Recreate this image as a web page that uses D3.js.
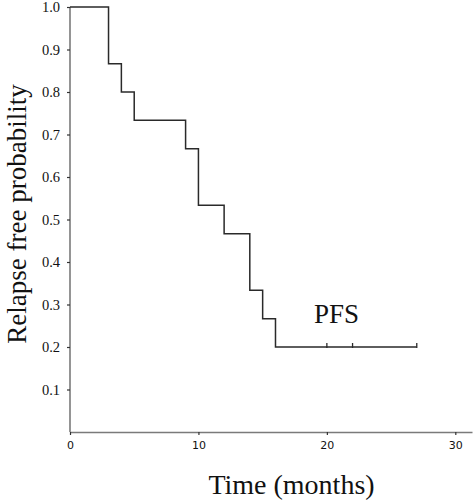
<!DOCTYPE html>
<html>
<head>
<meta charset="utf-8">
<script src="https://cdn.jsdelivr.net/npm/d3@7"></script>
<style>
  html, body { margin: 0; padding: 0; background: #fff; }
  svg { display: block; }
  .serif { font-family: 'Liberation Serif', 'Times New Roman', Times, 'DejaVu Serif', serif; }
  .sans { font-family: 'DejaVu Sans', Verdana, sans-serif; }
</style>
</head>
<body>
<svg id="chart" width="475" height="502"></svg>
<script>
// Data: Kaplan-Meier step points (time in months, survival probability)
const stepTimes = [0, 3, 4, 5, 9, 10, 12, 14, 15, 16, 27];
const stepValues = [1.0, 0.8667, 0.8, 0.7333, 0.6667, 0.5333, 0.4667, 0.3333, 0.2667, 0.2, 0.2];
const censorTimes = [20, 22, 27];
const censorValues = [0.2, 0.2, 0.2];
const xTicks = [0, 10, 20, 30];
const yTicks = [0.1, 0.2, 0.3, 0.4, 0.5, 0.6, 0.7, 0.8, 0.9, 1.0];
const curveLabel = "PFS";
const xTitle = "Time (months)";
const yTitle = "Relapse free probability";

const svg = d3.select("#chart");
const x = d3.scaleLinear().domain([0, 31.3]).range([70, 472]);
const y = d3.scaleLinear().domain([0, 1]).range([432, 7]);

// axes
const gx = svg.append("g").attr("transform", `translate(0,${y(0)})`)
  .call(d3.axisBottom(x).tickValues(xTicks).tickSize(3).tickSizeOuter(0).tickPadding(6));
gx.attr("font-family", null).attr("font-size", null);
gx.select(".domain").attr("stroke", "#7a7a7a").attr("stroke-width", 1.6);
gx.selectAll(".tick line").attr("stroke", "#333").attr("stroke-width", 1.2);
gx.selectAll(".tick text").attr("class", "sans")
  .style("font-size", "11px").attr("fill", "#111");

const gy = svg.append("g").attr("transform", `translate(${x(0)},0)`)
  .call(d3.axisLeft(y).tickValues(yTicks).tickFormat(d3.format(".1f")).tickSize(3).tickSizeOuter(0).tickPadding(7));
gy.attr("font-family", null).attr("font-size", null);
gy.select(".domain").attr("stroke", "#7a7a7a").attr("stroke-width", 1.6)
  .attr("d", `M0,${y(1)}V${y(0)}`);
gy.selectAll(".tick line").attr("stroke", "#333").attr("stroke-width", 1.2);
gy.selectAll(".tick text").attr("class", "serif")
  .style("font-size", "14.5px").attr("fill", "#111");

// step curve
const pts = stepTimes.map((t, i) => [t, stepValues[i]]);
const line = d3.line().x(d => x(d[0])).y(d => y(d[1])).curve(d3.curveStepAfter);
svg.append("path").datum(pts).attr("d", line)
  .attr("fill", "none").attr("stroke", "#2a2a2a").attr("stroke-width", 1.5);

// censor marks
svg.append("g").selectAll("line").data(censorTimes.map((t, i) => [t, censorValues[i]]))
  .join("line")
  .attr("x1", d => x(d[0])).attr("x2", d => x(d[0]))
  .attr("y1", d => y(d[1]) - 4).attr("y2", d => y(d[1]) + 1)
  .attr("stroke", "#2a2a2a").attr("stroke-width", 1.3);

// curve label
svg.append("text").attr("class", "serif").attr("x", x(19)).attr("y", y(0.2) - 24)
  .style("font-size", "27px").attr("fill", "#111").text(curveLabel);

// axis titles
svg.append("text").attr("class", "serif").attr("x", 291.5).attr("y", 494).attr("text-anchor", "middle")
  .style("font-size", "28px").attr("fill", "#111").text(xTitle);

svg.append("text").attr("class", "serif").attr("transform", "translate(25.5,214) rotate(-90)").attr("text-anchor", "middle")
  .style("font-size", "27px").attr("fill", "#111").text(yTitle);
</script>
</body>
</html>
